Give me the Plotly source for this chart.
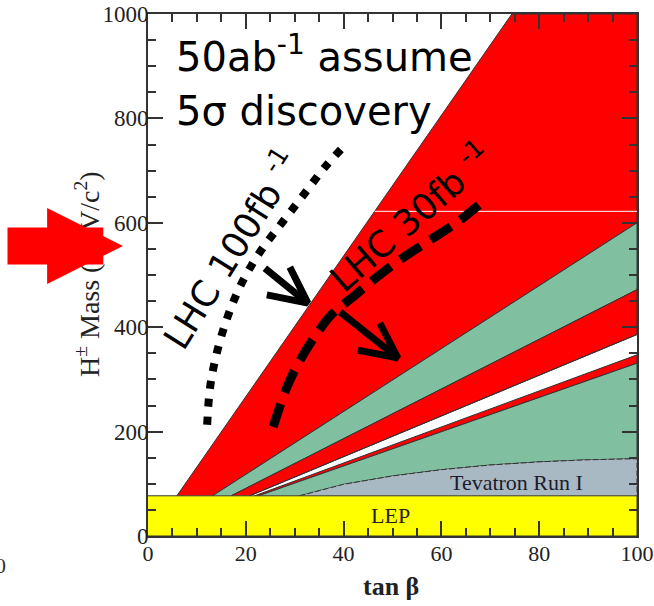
import plotly.graph_objects as go

# ---------------- data ----------------
lep_mass = 77  # LEP excluded below this mass

# upper edge of the first red band (line from LEP level to top of frame)
b1_tan = [5.9, 74.4]
b1_mass = [77, 1000]

# other straight boundaries: start tanβ on the LEP line, mass at tanβ = 100
bound_tan_start = [13.2, 17.0, 20.8, 21.8, 22.6]
bound_mass_end = [600, 472, 386, 347, 331]

# Tevatron Run I excluded region (upper edge)
tev_tan = [31, 40, 50, 60, 70, 80, 90, 100]
tev_mass = [77, 99, 115, 127, 136, 142, 146, 148]

# LHC 100 fb-1 contour (dotted)
lhc100_tan = [12.1, 12.7, 14.1, 16.4, 19.2, 22.9, 27.4, 32.1, 36.2, 39.9]
lhc100_mass = [213, 285, 352, 423, 485, 544, 600, 657, 707, 745]

# LHC 30 fb-1 contour (dashed)
lhc30_tan = [25.6, 28.4, 31.1, 34.6, 37.8, 41.9, 46.0, 51.5, 57.7, 63.8, 68.9]
lhc30_mass = [209, 285, 337, 389, 427, 458, 490, 529, 567, 605, 644]

# pointer arrows (shaft start, tip, wing 1, wing 2)
arrow1_tan = [23.9, 32.7, 29.0, 24.3]
arrow1_mass = [513, 446, 515, 462]
arrow2_tan = [39.3, 51.1, 47.4, 42.9]
arrow2_mass = [429, 341, 408, 356]

artifact_mass = 622  # thin white scan line in the red region

x_range = [0, 100]
y_range = [0, 1000]

RED = "#ff0000"
GREEN = "#80c0a0"
TEV = "#a9b9c4"
YEL = "#ffff00"
EDGE = "#333333"

fig = go.Figure()


def band(xs, ys, color, dash="solid"):
    fig.add_trace(go.Scatter(x=xs, y=ys, mode="lines", fill="toself",
                             fillcolor=color, line=dict(color=EDGE, width=1, dash=dash),
                             hoverinfo="skip", showlegend=False))


t = bound_tan_start
m = bound_mass_end
# red band 1
band([b1_tan[0], b1_tan[1], 100, 100, t[0]],
     [b1_mass[0], b1_mass[1], 1000, m[0], lep_mass], RED)
# green band 1
band([t[0], 100, 100, t[1]], [lep_mass, m[0], m[1], lep_mass], GREEN)
# red band 2
band([t[1], 100, 100, t[2]], [lep_mass, m[1], m[2], lep_mass], RED)
# white sliver edge
fig.add_trace(go.Scatter(x=[t[2], 100], y=[lep_mass, m[2]], mode="lines",
                         line=dict(color=EDGE, width=1), hoverinfo="skip", showlegend=False))
# red band 3 (thin)
band([t[3], 100, 100, t[4]], [lep_mass, m[3], m[4], lep_mass], RED)
# green band 2
band([t[4], 100] + tev_tan[::-1], [lep_mass, m[4]] + tev_mass[::-1], GREEN)
# Tevatron
band(tev_tan + [100], tev_mass + [lep_mass], TEV, dash="6px,2px")
# LEP
band([0, 100, 100, 0], [0, 0, lep_mass, lep_mass], YEL)

# white artifact line
b1_slope = (b1_mass[1] - b1_mass[0]) / (b1_tan[1] - b1_tan[0])
art_start = b1_tan[0] + (artifact_mass - b1_mass[0]) / b1_slope
fig.add_trace(go.Scatter(x=[art_start, 100], y=[artifact_mass, artifact_mass], mode="lines",
                         line=dict(color="white", width=1), hoverinfo="skip", showlegend=False))

# LHC curves
fig.add_trace(go.Scatter(x=lhc100_tan, y=lhc100_mass, mode="lines",
                         line=dict(color="black", width=8, dash="8px,10px", shape="spline"),
                         hoverinfo="skip", showlegend=False))
fig.add_trace(go.Scatter(x=lhc30_tan, y=lhc30_mass, mode="lines",
                         line=dict(color="black", width=9, dash="24px,12px", shape="spline"),
                         hoverinfo="skip", showlegend=False))

# black arrows
for at, am in [(arrow1_tan, arrow1_mass), (arrow2_tan, arrow2_mass)]:
    fig.add_trace(go.Scatter(x=[at[0], at[1], None, at[2], at[1], at[3]],
                             y=[am[0], am[1], None, am[2], am[1], am[3]],
                             mode="lines", line=dict(color="black", width=7),
                             hoverinfo="skip", showlegend=False))

W, H = 654, 606
ML, MR, MT, MB = 148, 17, 14, 70
PW, PH = W - ML - MR, H - MT - MB


def px(xp):
    return (xp - ML) / PW


def py(yp):
    return (H - MB - yp) / PH


serif = "Liberation Serif"
sans = "DejaVu Sans"


def note(text, x, y, size, family, color="black", angle=0, xanchor="center"):
    return dict(text=text, xref="paper", yref="paper", x=px(x), y=py(y),
                xanchor=xanchor, yanchor="middle", textangle=angle, showarrow=False,
                font=dict(family=family, size=size, color=color))


annotations = [
    note("H<sup>±</sup> Mass (GeV/c<sup>2</sup>)", 87, 274, 28, serif, "#222", -90),
    note("50ab<sup>-1</sup> assume", 174, 54, 40, sans, xanchor="left"),
    note("5σ discovery", 174, 111, 40, sans, xanchor="left"),
    note("LHC 100fb <sup>-1</sup>", 230, 249, 36, sans, angle=-58),
    note("LHC 30fb <sup>-1</sup>", 410, 216, 36, sans, angle=-41),
    note("Tevatron Run I", 516, 482, 22, serif, "#1c1c2c"),
    note("LEP", 390, 515, 22, serif, "#222"),
    note("<b>tan β</b>", 391, 586, 26, serif, "#222"),
    note("0", 0, 565, 22, serif, "#333"),
    # big red arrow (drawn last, above the axis title)
    dict(text="", xref="paper", yref="paper", x=px(123), y=py(246),
         axref="pixel", ayref="pixel", ax=-117, ay=0, showarrow=True,
         arrowhead=2, arrowwidth=37, arrowsize=0.41, arrowcolor=RED, standoff=0),
]

axis_common = dict(showgrid=False, zeroline=False, showline=True, linecolor=EDGE,
                   linewidth=2, mirror="ticks", ticks="inside", ticklen=15,
                   tickwidth=2, tickcolor=EDGE, automargin=False)

fig.update_layout(
    width=W, height=H,
    margin=dict(l=ML, r=MR, t=MT, b=MB, autoexpand=False),
    paper_bgcolor="white", plot_bgcolor="white",
    xaxis=dict(range=x_range, dtick=20, tick0=0, ticklabelstandoff=-3,
               tickfont=dict(family=serif, size=22, color="#222"),
               minor=dict(dtick=5, ticks="inside", ticklen=8, tickwidth=2, tickcolor=EDGE),
               **axis_common),
    yaxis=dict(range=y_range, dtick=200, tick0=0, ticklabelstandoff=-7,
               tickfont=dict(family=serif, size=23, color="#222"),
               minor=dict(dtick=50, ticks="inside", ticklen=8, tickwidth=2, tickcolor=EDGE),
               **axis_common),
    annotations=annotations,
)

fig.write_html("out.html")
